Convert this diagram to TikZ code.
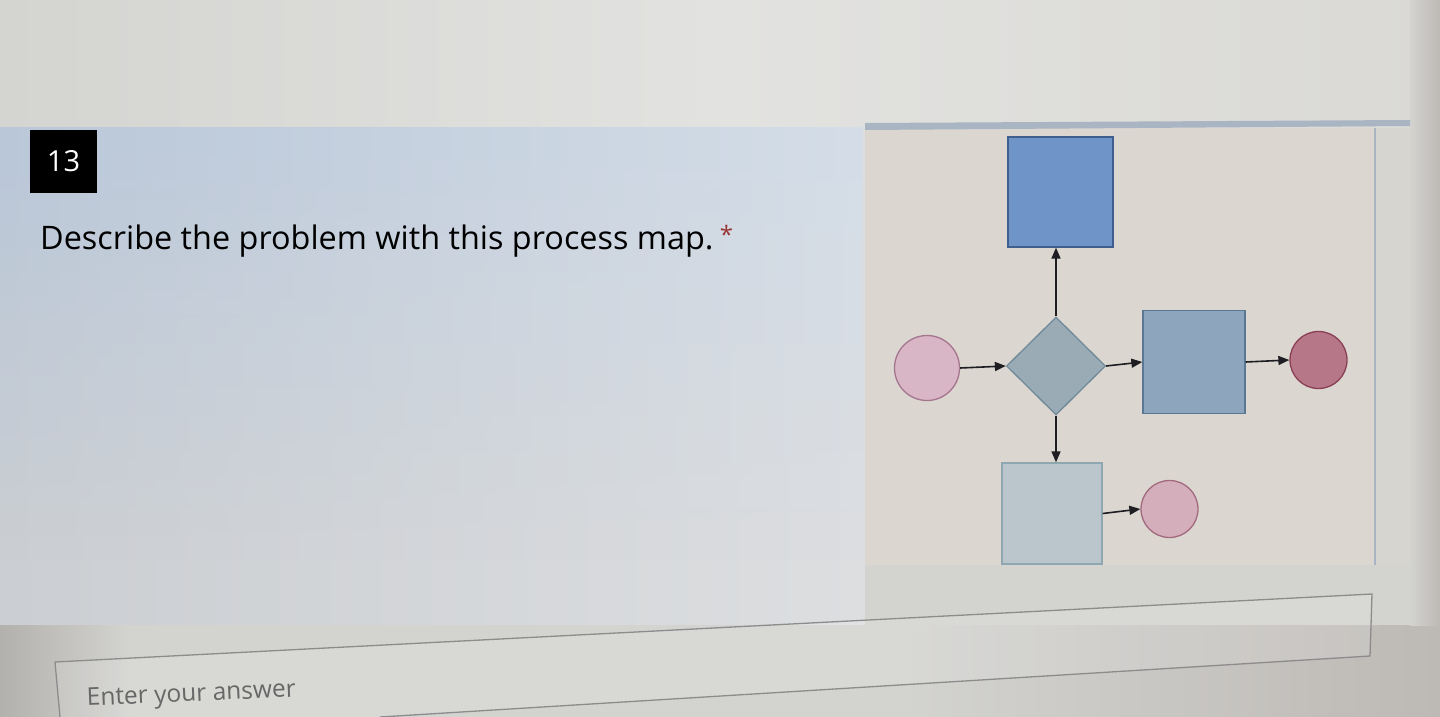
\documentclass[tikz,border=0pt]{standalone}
\usepackage{fontspec}
\setmainfont{Open Sans}
\usetikzlibrary{shapes.geometric,arrows.meta,fadings}
\definecolor{topA}{HTML}{D4D4D1}
\definecolor{topB}{HTML}{E2E2E0}
\definecolor{topC}{HTML}{DAD9D5}
\definecolor{cardBlueA}{HTML}{B9C7D9}
\definecolor{cardBlueB}{HTML}{D4DDE8}
\definecolor{cardGreyA}{HTML}{CBCED2}
\definecolor{cardGreyB}{HTML}{DCDEE0}
\definecolor{lowA}{HTML}{B3B1AD}
\definecolor{lowB}{HTML}{D3D3D0}
\definecolor{lowC}{HTML}{BDB9B5}
\definecolor{panel}{HTML}{DBD7D0}
\definecolor{panelframe}{HTML}{A9B5C2}
\definecolor{blueF}{HTML}{6F95C8}
\definecolor{blueD}{HTML}{3F5F8F}
\definecolor{diaF}{HTML}{9AABB6}
\definecolor{diaD}{HTML}{6F8A99}
\definecolor{rrF}{HTML}{8EA6BD}
\definecolor{rrD}{HTML}{5A7896}
\definecolor{brF}{HTML}{BAC6CC}
\definecolor{brD}{HTML}{8FA7B0}
\definecolor{pinkF}{HTML}{D9B6C5}
\definecolor{pinkD}{HTML}{A57590}
\definecolor{redF}{HTML}{B67888}
\definecolor{redD}{HTML}{8A3F55}
\definecolor{pink2F}{HTML}{D4AEBB}
\definecolor{pink2D}{HTML}{A3697E}
\definecolor{ink}{HTML}{1E1E22}
\definecolor{hint}{HTML}{676767}
\definecolor{starred}{HTML}{9A3535}
\tikzfading[name=fadeDown, top color=transparent!0, bottom color=transparent!100]
\tikzset{
  procbox/.style={rectangle, draw, line width=1.3pt, inner sep=0pt},
  decbox/.style={diamond, draw, line width=1.3pt, inner sep=0pt},
  termbox/.style={circle, draw, line width=1.3pt, inner sep=0pt},
  flow/.style={draw=ink, line width=1.6pt, -{Triangle[length=11pt,width=9pt]}},
}
\begin{document}
\begin{tikzpicture}[x=1pt,y=-1pt]
\useasboundingbox (0,0) rectangle (1440,717);
% backgrounds
\shade[left color=topA, right color=topB] (0,0) rectangle (720,128);
\shade[left color=topB, right color=topC] (720,0) rectangle (1440,128);
\shade[left color=cardGreyA, right color=cardGreyB] (0,128) rectangle (865,625);
\shade[left color=cardBlueA, right color=cardBlueB, path fading=fadeDown] (0,128) rectangle (865,560);
\shade[left color=lowA, right color=lowB] (0,625) rectangle (130,717);
\fill[lowB] (130,625) rectangle (900,717);
\shade[left color=lowB, right color=lowC] (900,625) rectangle (1440,717);
\fill[lowB] (865,565) rectangle (1410,625);
\fill[lowB!60!panel] (1375,128) rectangle (1410,565);
\shade[left color=lowB, right color=lowC] (1410,0) rectangle (1440,625);
\fill[panel] (865,128) rectangle (1375,565);
\fill[panelframe] (865,123) -- (1410,120) -- (1410,126) -- (865,130) -- cycle;
\draw[panelframe, line width=2pt] (1375,128) -- (1375,565);
% question number
\node[fill=black, minimum width=67pt, minimum height=63pt, inner sep=0pt,
      text=white, font=\fontsize{29}{34}\selectfont] (num) at (63.5,161.5) {13};
% question text
\node[anchor=base west, inner sep=0pt, text=black, font=\fontsize{32.4}{38}\selectfont]
  (q) at (40,249) {Describe the problem with this process map.};
\node[anchor=base west, inner sep=0pt, text=starred, font=\fontsize{24}{28}\selectfont]
  (star) at (q.base east) [xshift=6pt, yshift=6pt] {*};
% diagram
\node[procbox, fill=blueF, draw=blueD, minimum width=105pt, minimum height=110pt] (top) at (1060.5,192) {};
\node[decbox, fill=diaF, draw=diaD, minimum width=99pt, minimum height=98pt] (dia) at (1056,366) {};
\node[termbox, fill=pinkF, draw=pinkD, minimum size=65pt] (start) at (927,368) {};
\node[procbox, fill=rrF, draw=rrD, minimum width=102pt, minimum height=103pt] (right) at (1194,362) {};
\node[termbox, fill=redF, draw=redD, minimum size=57pt] (endR) at (1318.5,360) {};
\node[procbox, fill=brF, draw=brD, minimum width=100pt, minimum height=101pt] (bottom) at (1052,513.5) {};
\node[termbox, fill=pink2F, draw=pink2D, minimum size=57pt] (endB) at (1169.5,509) {};
\draw[flow] (dia.north) -- (dia.north |- top.south);
\draw[flow] (start.east) -- (dia.west);
\draw[flow] (dia.east) -- (right.west);
\draw[flow] (right.east) -- (endR.west);
\draw[flow] (dia.south) -- (dia.south |- bottom.north);
\draw[flow] (bottom.east) -- (endB.west);
% answer box
\coordinate (aTL) at (55,662);
\coordinate (aTR) at (1372,594);
\coordinate (aBR) at (1370,656);
\coordinate (aBL) at (380,717);
\coordinate (aLL) at (60,717);
\fill[white, opacity=0.12] (aLL) -- (aTL) -- (aTR) -- (aBR) -- (aBL) -- cycle;
\draw[black!45, line width=1.3pt] (aLL) -- (aTL) -- (aTR) -- (aBR) -- (aBL);
\node[anchor=base west, inner sep=0pt, text=hint, rotate=2.5, font=\fontsize{24.5}{28}\selectfont]
  (ans) at (87,706) {Enter your answer};
\end{tikzpicture}
\end{document}
